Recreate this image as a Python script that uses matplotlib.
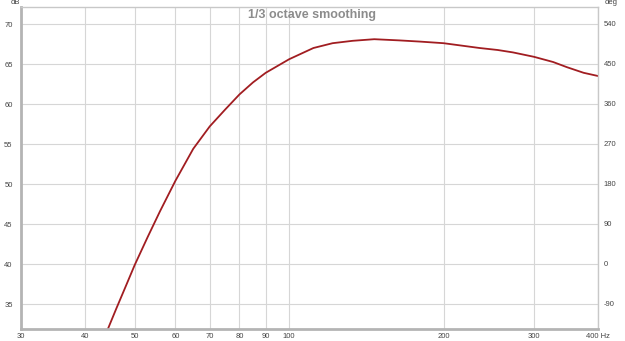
import matplotlib
matplotlib.use("Agg")
import matplotlib.pyplot as plt
from matplotlib.ticker import FixedLocator, NullLocator

# frequency response (Hz, dB)
freq = [44, 46, 48, 50, 53, 56, 60, 65, 70, 75, 80, 85, 90, 100, 111.5, 121.5,
        133, 146.5, 164, 180, 200, 235, 255, 273, 300, 327, 348, 375, 400]
spl = [31.4, 34.4, 37.2, 39.9, 43.4, 46.6, 50.4, 54.4, 57.2, 59.3, 61.2, 62.7, 63.9, 65.6, 67.0, 67.6,
       67.9, 68.1, 67.95, 67.8, 67.6, 67.0, 66.75, 66.45, 65.9, 65.25, 64.6, 63.9, 63.5]

x_ticks = [30, 40, 50, 60, 70, 80, 90, 100, 200, 300, 400]
x_labels = ["30", "40", "50", "60", "70", "80", "90", "100", "200", "300", "400 Hz"]
db_ticks = [35, 40, 45, 50, 55, 60, 65, 70]
deg_ticks = [-90, 0, 90, 180, 270, 360, 450, 540]

plt.rcParams['font.family'] = ['Liberation Sans', 'DejaVu Sans']
plt.rcParams['axes.unicode_minus'] = False

fig = plt.figure(figsize=(6.25, 3.41), dpi=100)
ax = fig.add_axes([21 / 625, 1 - 329 / 341, 577 / 625, 322 / 341])

ax.set_xscale("log")
ax.set_xlim(30, 400)
ax.set_ylim(31.875, 72.125)

ax.xaxis.set_major_locator(FixedLocator(x_ticks))
ax.xaxis.set_minor_locator(NullLocator())
ax.set_xticklabels(x_labels)
ax.set_yticks(db_ticks)

ax.grid(True, color="#d6d6d6", linewidth=0.8)
ax.set_axisbelow(True)
ax.tick_params(axis="both", length=0, labelsize=5.5, labelcolor="#444444")
ax.tick_params(axis="x", pad=3)
ax.tick_params(axis="y", pad=6)

for side in ["top", "right"]:
    ax.spines[side].set_color("#c8c8c8")
    ax.spines[side].set_linewidth(1.0)
for side in ["left", "bottom"]:
    ax.spines[side].set_color("#b4b4b4")
    ax.spines[side].set_linewidth(2.0)

ax.plot(freq, spl, color="#a11d21", linewidth=1.3, solid_capstyle="round", solid_joinstyle="round")

# phase axis on the right (deg), 18 deg per dB, 0 deg at 40 dB
ax2 = ax.twinx()
ax2.set_ylim((31.875 - 40) * 18, (72.125 - 40) * 18)
ax2.set_yticks(deg_ticks)
ax2.tick_params(axis="y", length=0, labelsize=5.5, labelcolor="#444444", pad=4)
for side in ax2.spines:
    ax2.spines[side].set_visible(False)

fig.text(15 / 625, 1 - 3 / 341, "dB", fontsize=5.5, color="#444444", ha="center", va="center")
fig.text(611 / 625, 1 - 3 / 341, "deg", fontsize=5.5, color="#444444", ha="center", va="center")

fig.text(312 / 625, 1 - 15 / 341, "1/3 octave smoothing", fontsize=9, fontweight="bold",
         color="#8c8c8c", ha="center", va="center")

fig.savefig("out.png", dpi=100)
